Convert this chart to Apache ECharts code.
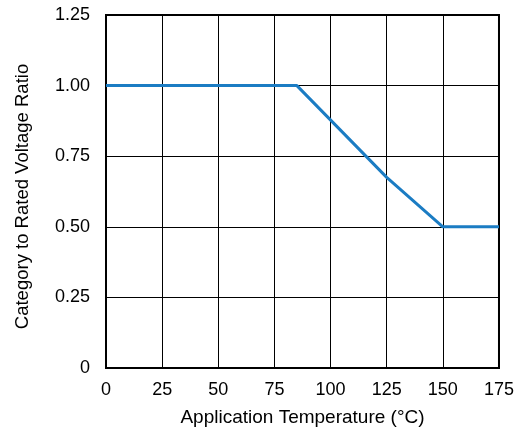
<!DOCTYPE html>
<html>
<head>
<meta charset="utf-8">
<script src="https://cdn.jsdelivr.net/npm/echarts@6/dist/echarts.min.js"></script>
<style>html,body{margin:0;padding:0;background:#fff}#c{width:517px;height:432px}</style>
</head>
<body>
<div id="c"></div>
<script>
var temps = [0, 85, 125, 150, 175];
var ratios = [1.0, 1.0, 0.675, 0.5, 0.5];
var xTicks = [0, 25, 50, 75, 100, 125, 150, 175];
var yTicks = [0, 0.25, 0.5, 0.75, 1.0, 1.25];

var chart = echarts.init(document.getElementById('c'));
var font = 'Liberation Sans, Arial, sans-serif';
chart.setOption({
  animation: false,
  grid: { left: 106, right: 17, top: 15, bottom: 62, show: true, borderColor: '#000', borderWidth: 2 },
  xAxis: {
    type: 'value', min: xTicks[0], max: xTicks[xTicks.length-1], interval: 25,
    name: 'Application Temperature (°C)', nameLocation: 'middle', nameGap: 40,
    nameTextStyle: { fontFamily: font, fontSize: 19, color: '#000' },
    axisLine: { show: true, lineStyle: { color: '#000', width: 2 } },
    axisTick: { show: false },
    axisLabel: { fontFamily: font, fontSize: 18, color: '#000', margin: 13 },
    splitLine: { show: true, lineStyle: { color: '#000', width: 1 } }
  },
  yAxis: {
    type: 'value', min: yTicks[0], max: yTicks[yTicks.length-1], interval: 0.25,
    name: 'Category to Rated Voltage Ratio', nameLocation: 'middle', nameGap: 74,
    nameTextStyle: { fontFamily: font, fontSize: 18.5, color: '#000', padding: [0, 10, 0, 0] },
    axisLine: { show: true, lineStyle: { color: '#000', width: 2 } },
    axisTick: { show: false },
    axisLabel: { fontFamily: font, fontSize: 18, color: '#000', margin: 16,
      formatter: function (v) { return v === 0 ? '0' : v.toFixed(2); } },
    splitLine: { show: true, lineStyle: { color: '#000', width: 1 } }
  },
  series: [{
    type: 'line',
    data: temps.map(function (t, i) { return [t, ratios[i]]; }),
    showSymbol: false,
    lineStyle: { color: '#1b7cc3', width: 3 },
    z: 5
  }]
});
</script>
</body>
</html>
